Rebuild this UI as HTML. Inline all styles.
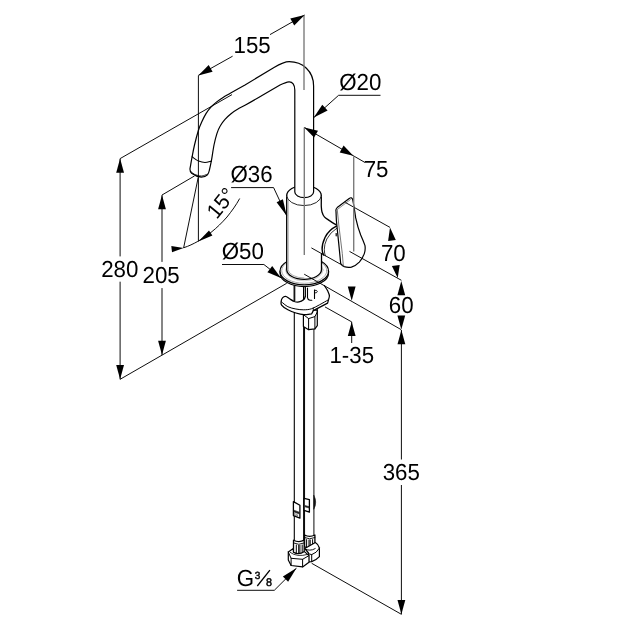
<!DOCTYPE html>
<html><head><meta charset="utf-8"><style>
html,body{margin:0;padding:0;background:#fff}
svg{display:block;filter:grayscale(1)}
text{font-family:"Liberation Sans",sans-serif;font-size:23.2px;fill:#000;text-anchor:middle;text-rendering:geometricPrecision}
</style></head><body>
<svg width="630" height="630" viewBox="0 0 630 630">
<rect width="630" height="630" fill="#fff"/>
<g fill="#fff" stroke="#000" stroke-width="1.2" stroke-linejoin="round" stroke-linecap="round">
<!-- hoses -->
<path d="M294.3,286 V540 H303.6 V286 Z" stroke="none"/>
<path d="M304.6,326 V535 H313.9 V326 Z" stroke="none"/>
<path d="M294.3,286 V540" fill="none" stroke-width="1.1"/>
<path d="M313.9,326 V535" fill="none" stroke-width="1.1" stroke="#222"/>
<path d="M303.6,286V540M304.55,326V535" stroke-width="1.0" fill="none"/>
<!-- hose tags -->
<path d="M293.4,501.6 L299.9,505.2 V518.2 L293.4,515.6 Z" stroke-width="1.3"/>
<path d="M294,510.2 L299.4,512.2 V514 L294,512" fill="#222" stroke="#222" stroke-width="0.6"/>
<path d="M294.6,513.6 L297.6,514.8 V516.2 L294.6,515 Z" fill="none" stroke-width="0.6" stroke="#444"/>
<path d="M304.1,498.4 L309.4,499.6 V512.2 L304.1,510.4 Z" stroke-width="1.3"/>
<path d="M304.8,505.4 L309,506.6 V508 L304.8,506.8" fill="#222" stroke="#222" stroke-width="0.6"/>
<path d="M313.9,495.4 Q317.6,502.2 313.9,509 Z" fill="#111" stroke="#111" stroke-width="0.6"/>
<!-- right ferrule + nut -->
<path d="M304.6,535 Q309.5,537.6 314.9,535 V546.8 Q309.7,550 304.6,546.8 Z" stroke-width="1.3"/>
<path d="M304.6,537.6 Q309.5,540.2 314.9,537.6" fill="none" stroke-width="0.9"/>
<path d="M306.6,539.6V547M309,540V547.8M310.2,540V547.8M312.6,539.6V547" fill="none" stroke-width="1"/>
<path d="M315.3,542.6 Q318.6,544.5 319.4,548 V556.7 Q316.5,560 311.7,561.6 L308.5,561.8 V553 L304.8,548.5 Z"/>
<path d="M304.8,548.8 Q309.7,551.8 315.2,548.6" fill="none" stroke-width="0.9"/>
<path d="M309.3,554 L311.7,554.6 Q316.5,553.2 319.4,548.2 M311.7,554.6 V561.6" fill="none" stroke-width="1"/>
<!-- left ferrule + nut -->
<path d="M293.5,540.2 Q298.8,543 304.2,540.2 V552.4 Q298.8,555.6 293.5,552.4 Z" stroke-width="1.3"/>
<path d="M293.5,543 Q298.8,545.8 304.2,543" fill="none" stroke-width="0.9"/>
<path d="M296.3,545V552.6M298.7,545.4V553.2M299.9,545.4V553.2M302.2,545V552.6" fill="none" stroke-width="1"/>
<path d="M293.3,548.6 L288.3,552 V560 L291.1,565.5 L302.6,566.9 L309,562.3 V555.6 L304.4,551.6 Q298.8,555.4 293.4,552.2 Z"/>
<path d="M288.3,552 L291.1,558.3 L302.6,559.3 L309,555.6 M291.1,558.3V565.5 M302.6,559.3V566.9" fill="none" stroke-width="1"/>
<path d="M290.2,552.4 Q297,557.5 307.6,554.4" fill="none" stroke-width="0.8"/>
<!-- nut under bracket -->
<path d="M303.4,311 V326.5 L308.6,329.7 L314.9,328.9 L317.3,325.7 V310 Z"/>
<path d="M303.4,314.6 L308.6,318.6 L314.9,316.6 L317.3,312 M308.6,318.6 V329.7 M314.9,316.6 V328.9" fill="none" stroke-width="1"/>
<!-- bracket -->
<path d="M324.4,285.6 L327.8,291.1 L329.4,295.6 L328.6,299 L327.6,303.1 L313.3,310.6 L311.7,313.8 L303.8,314.6 L295.9,313 L287.9,309.8 L281.6,305.1 L281.2,301.1 L282.5,297.8 L285.6,296.3 L289.5,298.7 L294.3,301.5 L299,301.9 L303.8,299.5 L305.4,296.3 L306,288 Z" stroke="none"/>
<path d="M324.4,285.6C325.0,286.5 327.0,289.4 327.8,291.1C328.6,292.8 329.3,294.2 329.4,295.6C329.5,297.0 328.7,298.8 328.6,299.4 L327.6,303.1 L313.3,310.6 L311.7,313.8 M311.7,313.8C310.4,313.9 306.4,314.7 303.8,314.6C301.2,314.5 298.5,313.8 295.9,313.0C293.2,312.2 290.3,311.1 287.9,309.8C285.5,308.5 282.7,306.6 281.6,305.1C280.5,303.7 281.1,302.3 281.2,301.1C281.3,299.9 281.8,298.6 282.5,297.8C283.2,297.0 284.4,296.2 285.6,296.3C286.8,296.4 288.1,297.8 289.5,298.7C290.9,299.6 292.7,301.0 294.3,301.5C295.9,302.0 297.4,302.2 299.0,301.9C300.6,301.6 302.7,300.4 303.8,299.5C304.9,298.6 305.1,296.8 305.4,296.3" fill="none" stroke-width="1.25"/>
<path d="M281.4,301.8C282.5,302.6 285.5,305.5 287.9,306.7C290.3,307.9 293.2,308.5 295.9,309.0C298.5,309.5 301.2,309.9 303.8,309.8C306.4,309.8 309.1,309.6 311.7,308.7C314.3,307.8 317.0,306.1 319.7,304.7C322.4,303.2 326.6,300.8 328.0,300.0" fill="none" stroke-width="1"/>
<path d="M313.3,308 V310.6 M317.3,308.6 V312" fill="none" stroke-width="0.9"/>
<!-- shank details under flange -->
<path d="M294.3,284 V301.4 M303.6,284 V299.6 M305.4,284 V296.3 M307.5,288 V297.6 Q307.8,300 310,300.3 L311.8,300.3 M314.5,290 V298.4" fill="none" stroke-width="1.1"/>
<path d="M295.3,285 V301.8" fill="none" stroke="#777" stroke-width="0.7"/>
<path d="M314.5,290.2 Q317.4,290 317.3,291.6 Q317.2,293 314.7,293" fill="none" stroke-width="0.9"/>
<!-- flange -->
<path d="M280.05,271.2 V272.9 A24.25,13.7 0 0 0 328.55,272.9 V271.2 Z"/>
<ellipse cx="304.3" cy="271.2" rx="24.25" ry="13.7"/>
<ellipse cx="304.3" cy="270.7" rx="22.6" ry="12.6" fill="none" stroke="#888" stroke-width="0.7"/>
<ellipse cx="304.3" cy="270" rx="18.8" ry="10.8" fill="none" stroke="#aaa" stroke-width="0.6"/>
<!-- body -->
<path d="M286.7,195.5 V269.6 A17.4,9.8 0 0 0 321.5,269.6 V255 L322.2,250 V212 L321.3,195.5 Z" stroke="none"/>
<path d="M286.7,195.5 V269.6 A17.4,9.8 0 0 0 321.5,269.6 V254" fill="none" stroke-width="1.3"/>
<path d="M288.2,200 V269.6 A16.2,8.6 0 0 0 304,278" fill="none" stroke="#888" stroke-width="0.7"/>
<!-- knuckle -->
<path d="M336.4,226.2 Q328.6,230.2 325,237.5 Q322,244 322.1,249.3 Q322.3,253 323.6,255 L340.7,264.3 L343,226 Z" stroke="none"/>
<path d="M336.4,226.2 Q328.6,230.2 325,237.5 Q322,244 322.1,249.3 Q322.3,253 323.6,255" fill="none" stroke-width="1.4"/>
<path d="M337.1,228 Q330.2,232.4 326.8,239 Q324.2,244.6 324.3,249.3 Q324.4,253.4 325.3,255.8" fill="none" stroke-width="0.8"/>
<path d="M336.2,233.6 v2.2" fill="none" stroke-width="1.2"/>
<!-- neck line -->
<path d="M321.3,195.6C321.3,196.5 321.3,199.2 321.3,201.0C321.3,202.8 321.2,204.7 321.3,206.5C321.4,208.3 321.5,210.3 322.0,212.0C322.5,213.7 323.1,215.5 324.4,216.9C325.6,218.3 327.5,219.2 329.5,220.6C331.5,221.9 335.2,224.3 336.4,225.0" fill="none" stroke-width="1.3"/>
<!-- body top -->
<ellipse cx="304" cy="195.6" rx="17.3" ry="10" stroke="none"/>
<path d="M286.7,195.6 A17.3,10 0 0 1 321.3,195.6" fill="none" stroke-width="1.3"/>
<path d="M286.7,195.6 A17.3,10 0 0 0 321.3,195.6" fill="none" stroke-width="0.95" stroke="#1a1a1a"/>
<!-- spout pipe -->
<path d="M313.6,192 V86 C313.6,71 302.5,61.7 289.2,61.7 C284,61.7 280,64 274,67.5 L245,85 C242.6,86.3 234.3,91.0 230.7,93.1C227.0,95.2 225.5,95.9 223.1,97.4C220.7,98.9 218.5,100.4 216.4,102.1C214.3,103.8 212.4,105.5 210.7,107.4C209.0,109.3 207.5,111.1 206.0,113.6C204.5,116.0 203.0,119.2 201.7,122.1C200.4,124.9 199.5,126.9 198.3,130.7C197.1,134.5 195.5,140.7 194.5,145.0C193.5,149.3 192.9,152.5 192.2,156.4C191.4,160.3 190.4,166.6 190.0,168.6 Q189.8,171.6 191.6,173.2 Q196,176.6 201.4,177.1 Q205.4,177 207.4,174.8 Q208.8,173 209.3,170.5 C209.7,168.9 210.6,164.9 211.4,160.7C212.2,156.4 213.1,149.5 214.0,145.0C214.9,140.5 215.9,136.8 216.9,133.6C217.9,130.4 218.8,128.4 220.2,126.0C221.5,123.6 223.2,121.3 225.0,119.3C226.8,117.3 228.5,115.8 230.7,114.0C232.9,112.2 235.9,110.2 238.3,108.8C240.7,107.3 241.1,107.5 245.0,105.3C248.9,103.1 259.2,97.1 262.0,95.4 L280,85 C284,83 286,82 289,81.8 C292.4,81.6 294.8,85 294.8,90 V192 A9.4,5.6 0 0 0 313.6,192 Z"/>
<path d="M192.1,156.8C193.2,157.5 196.4,160.2 198.6,161.1C200.8,162.0 202.9,162.5 205.0,162.5C207.1,162.5 210.3,161.3 211.4,161.1" fill="none" stroke-width="1.1"/>
<path d="M190.6,171.2C191.2,171.7 192.5,173.4 194.3,174.2C196.1,175.0 199.2,176.0 201.4,176.0C203.6,176.0 206.2,174.5 207.2,174.2" fill="none" stroke-width="0.8"/>
<!-- handle -->
<path d="M336,211.4 Q335.5,209 337.2,207.6 L349.2,198.5 Q351.8,196.6 352.7,199.6 Q354,206 355.7,217.9 Q357.6,227 360.7,235 Q363.6,241.6 365,245.6 Q365.6,250 364.3,253.6 Q362.6,258.4 359.3,262.1 Q356,265.6 351.4,267.1 Q347.6,267.8 344.3,266.6 Q342,265.6 340.7,263.6 L338.6,242.1 L336.4,220.7 L336,211.4 Z"/>
<path d="M337.3,210 L338.8,225 L342.3,253.6 L343.3,265.6" fill="none" stroke-width="0.9" stroke="#666"/>
<path d="M337.2,209.6 L350.4,199.6" fill="none" stroke-width="0.7" stroke="#555"/>

</g>
<g fill="none" stroke="#000" stroke-width="0.95" stroke="#1c1c1c">
<path d="M198.3,75.4L232.6,56.2"/>
<path d="M270,34.6L304.6,15"/>
<path d="M198.4,75.6L198.4,241.4"/>
<path d="M380.5,95.3L338.6,95.3"/>
<path d="M338.6,95.3L313.8,117.6"/>
<path d="M304.3,127.4L365,162.5"/>
<path d="M231.1,187.6L273.6,187.6"/>
<path d="M273.6,187.6L286.6,215.4"/>
<path d="M222,264.5L263.9,264.5"/>
<path d="M263.9,264.5L281,277.9"/>
<path d="M198.2,177.5L183.6,248"/>
<path d="M183.8,247.7 C189,246 193,244 197.8,241.4 C203,238.3 207,235.6 211,232.4 C217,227.6 222,222.7 227,217 C232,210.8 236,205.2 239.7,198.5"/>
<path d="M120.1,158.7L120.1,256.4"/>
<path d="M120.1,281.7L120.1,379.4"/>
<path d="M120.1,158.6L232,94.6"/>
<path d="M120.1,379.3L286.7,283.3"/>
<path d="M162,195.1L162,261.9"/>
<path d="M162,288.1L162,355.1"/>
<path d="M162,195L194.6,175.9"/>
<path d="M345.4,202.5L390,227.4"/>
<path d="M349.5,251.4L401.4,280.3"/>
<path d="M311.4,247.9L340.7,264.3"/>
<path d="M304.2,274.2L401.1,329.6"/>
<path d="M401.4,330L401.4,459.5"/>
<path d="M401.4,485L401.4,614.3"/>
<path d="M311.7,563.3L401.4,614.3"/>
<path d="M351.7,321.9L351.7,343"/>
<path d="M325,306.9L351.7,321.9"/>
<path d="M237.1,590.3L274.3,590.3"/>
<path d="M274.3,590.3L296.4,568.3"/>
</g>
<g fill="none" stroke="#7c7c7c" stroke-width="1.4">
<path d="M304,15.2L304,90"/>
<path d="M304.3,127.4L304.3,255"/>
<path d="M353.7,156.3L353.7,251.5"/>
</g>
<g fill="#000" stroke="none">
<polygon points="198.3,75.4 208.7,65.0 212.6,71.8"/>
<polygon points="304.6,15.0 294.2,25.4 290.3,18.6"/>
<polygon points="313.8,117.6 322.3,104.7 327.6,110.5"/>
<polygon points="304.3,127.4 318.0,130.8 314.1,137.6"/>
<polygon points="353.3,155.7 339.7,152.4 343.6,145.6"/>
<polygon points="286.7,215.7 276.6,202.2 282.9,199.3"/>
<polygon points="281.0,277.9 267.4,272.2 272.2,266.1"/>
<polygon points="183.6,247.9 172.0,252.3 171.3,246.1"/>
<polygon points="198.3,241.4 209.0,230.4 212.4,235.4"/>
<polygon points="120.1,158.6 124.0,172.8 116.2,172.8"/>
<polygon points="120.1,379.3 116.2,365.1 124.0,365.1"/>
<polygon points="162.0,195.0 165.9,209.2 158.1,209.2"/>
<polygon points="162.0,355.0 158.1,340.8 165.9,340.8"/>
<polygon points="390.0,227.5 395.8,240.0 388.1,241.1"/>
<polygon points="397.7,278.0 391.9,266.1 399.7,265.0"/>
<polygon points="401.3,281.1 405.2,295.3 397.4,295.3"/>
<polygon points="401.3,329.6 397.4,315.4 405.2,315.4"/>
<polygon points="401.4,330.0 405.3,344.2 397.5,344.2"/>
<polygon points="401.4,614.3 397.5,600.1 405.3,600.1"/>
<polygon points="351.7,300.8 347.8,286.6 355.6,286.6"/>
<polygon points="351.7,321.9 355.6,336.1 347.8,336.1"/>
<polygon points="296.5,568.0 288.1,581.7 282.9,576.4"/>
</g>
<text transform="translate(252.09,52.9) scale(0.962,1)">155</text><text transform="translate(360.21,90.1) scale(0.962,1)">Ø20</text><text transform="translate(376.10,176.9) scale(0.962,1)">75</text><text transform="translate(251.51,182.1) scale(0.962,1)">Ø36</text><text transform="translate(242.70,259.0) scale(0.962,1)">Ø50</text><text transform="translate(393.34,260.7) scale(0.962,1)">70</text><text transform="translate(119.75,276.6) scale(0.962,1)">280</text><text transform="translate(161.15,283.0) scale(0.962,1)">205</text><text transform="translate(401.24,312.6) scale(0.962,1)">60</text><text transform="translate(351.74,362.5) scale(0.962,1)">1-35</text><text transform="translate(401.28,479.5) scale(0.962,1)">365</text>
<text transform="translate(220.9,203.0) rotate(-51) scale(0.90,0.92)" dy="8">15°</text>
<text transform="translate(245.5,586.0) scale(0.962,1)">G</text>
<text transform="translate(257.5,579.3) scale(0.962,1)" style="font-size:10.4px;stroke:#000;stroke-width:0.45px">3</text>
<text transform="translate(268.9,586.1) scale(0.962,1)" style="font-size:11.2px;stroke:#000;stroke-width:0.45px">8</text>
<path d="M257.3,586 L269.9,570.2" stroke="#000" stroke-width="1.3" fill="none"/>
</svg>
</body></html>
